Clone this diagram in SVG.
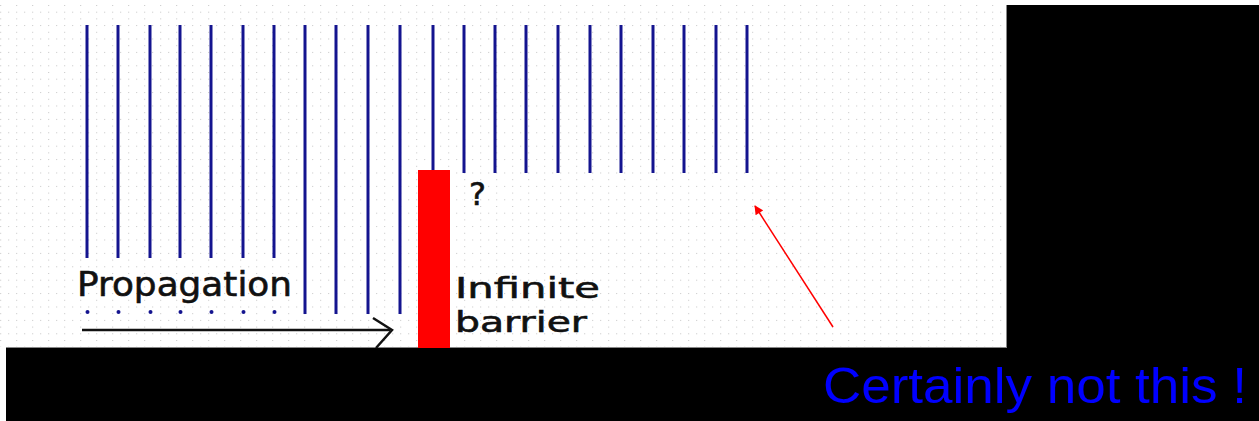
<svg xmlns="http://www.w3.org/2000/svg" width="1259" height="421" viewBox="0 0 1259 421">
  <defs>
    <pattern id="grid" x="0" y="5" width="16" height="13.4" patternUnits="userSpaceOnUse">
      <rect x="0.2" y="0" width="1" height="1" fill="#c4c4c4"/>
      <rect x="0.2" y="6.7" width="1" height="1" fill="#c4c4c4"/>
      <rect x="8.2" y="6.7" width="1" height="1" fill="#c4c4c4"/>
    </pattern>
    <marker id="redhead" viewBox="0 0 10 10" refX="9" refY="5" markerWidth="11" markerHeight="9" markerUnits="userSpaceOnUse" orient="auto">
      <path d="M0,0 L10,5 L0,10 z" fill="#ff0000"/>
    </marker>
    <style>
      .wave { stroke: #14148f; stroke-width: 3; stroke-linecap: butt; }
      .dot { fill: #14148f; }
      .lbl { font-family: "DejaVu Sans", "Liberation Sans", sans-serif; fill: #111; stroke: #111; stroke-width: 0.6; }
    </style>
  </defs>

  <rect x="0" y="0" width="1259" height="421" fill="#ffffff"/>
  <rect x="0" y="0" width="1007" height="347" fill="url(#grid)"/>
  <rect x="1007" y="5" width="252" height="416" fill="#000000"/>
  <rect x="6" y="348" width="1253" height="73" fill="#000000"/>
  <line x1="1006.5" y1="5" x2="1006.5" y2="348" stroke="#888" stroke-width="1"/>
  <line x1="6" y1="347.5" x2="1007" y2="347.5" stroke="#888" stroke-width="1"/>

  <g id="wavefronts">
    <line class="wave" x1="87" y1="25" x2="87" y2="258"/>
    <line class="wave" x1="118" y1="25" x2="118" y2="258"/>
    <line class="wave" x1="150" y1="25" x2="150" y2="258"/>
    <line class="wave" x1="180" y1="25" x2="180" y2="258"/>
    <line class="wave" x1="211" y1="25" x2="211" y2="258"/>
    <line class="wave" x1="243" y1="25" x2="243" y2="258"/>
    <line class="wave" x1="274" y1="25" x2="274" y2="258"/>
    <line class="wave" x1="305" y1="25" x2="305" y2="314"/>
    <line class="wave" x1="336" y1="25" x2="336" y2="314"/>
    <line class="wave" x1="368" y1="25" x2="368" y2="314"/>
    <line class="wave" x1="400" y1="25" x2="400" y2="314"/>
    <line class="wave" x1="433" y1="25" x2="433" y2="171"/>
    <line class="wave" x1="464" y1="25" x2="464" y2="173"/>
    <line class="wave" x1="495" y1="25" x2="495" y2="173"/>
    <line class="wave" x1="526" y1="25" x2="526" y2="173"/>
    <line class="wave" x1="558" y1="25" x2="558" y2="173"/>
    <line class="wave" x1="590" y1="25" x2="590" y2="173"/>
    <line class="wave" x1="621" y1="25" x2="621" y2="173"/>
    <line class="wave" x1="653" y1="25" x2="653" y2="173"/>
    <line class="wave" x1="684" y1="25" x2="684" y2="173"/>
    <line class="wave" x1="716" y1="25" x2="716" y2="173"/>
    <line class="wave" x1="747" y1="25" x2="747" y2="173"/>
  </g>

  <g id="dots">
    <circle class="dot" cx="87.5" cy="312" r="2"/>
    <circle class="dot" cx="118.5" cy="312" r="2"/>
    <circle class="dot" cx="150.5" cy="312" r="2"/>
    <circle class="dot" cx="180.5" cy="312" r="2"/>
    <circle class="dot" cx="211.5" cy="312" r="2"/>
    <circle class="dot" cx="243.5" cy="312" r="2"/>
    <circle class="dot" cx="274.5" cy="312" r="2"/>
  </g>

  <g id="barrier">
    <rect x="418" y="170" width="32" height="178" fill="#ff0000"/>
  </g>

  <g id="connectors">
    <line x1="82" y1="330" x2="390" y2="330" stroke="#111" stroke-width="2.5"/>
    <polyline points="373,318 392,330 376,348" fill="none" stroke="#111" stroke-width="2.5"/>
    <line x1="833" y1="327" x2="755" y2="206" stroke="#ff0000" stroke-width="1.5" marker-end="url(#redhead)"/>
  </g>

  <g id="labels">
    <text class="lbl" x="77" y="296" font-size="33" textLength="215" lengthAdjust="spacingAndGlyphs">Propagation</text>
    <text class="lbl" x="455" y="298" font-size="29" textLength="145" lengthAdjust="spacingAndGlyphs">Infinite</text>
    <text class="lbl" x="455" y="332" font-size="29" textLength="132" lengthAdjust="spacingAndGlyphs">barrier</text>
    <text class="lbl" x="469" y="205" font-size="32">?</text>
    <text x="823" y="403" font-family="Liberation Sans, Arial, sans-serif" font-size="50" fill="#0000ff" textLength="424" lengthAdjust="spacingAndGlyphs">Certainly not this !</text>
  </g>
</svg>
